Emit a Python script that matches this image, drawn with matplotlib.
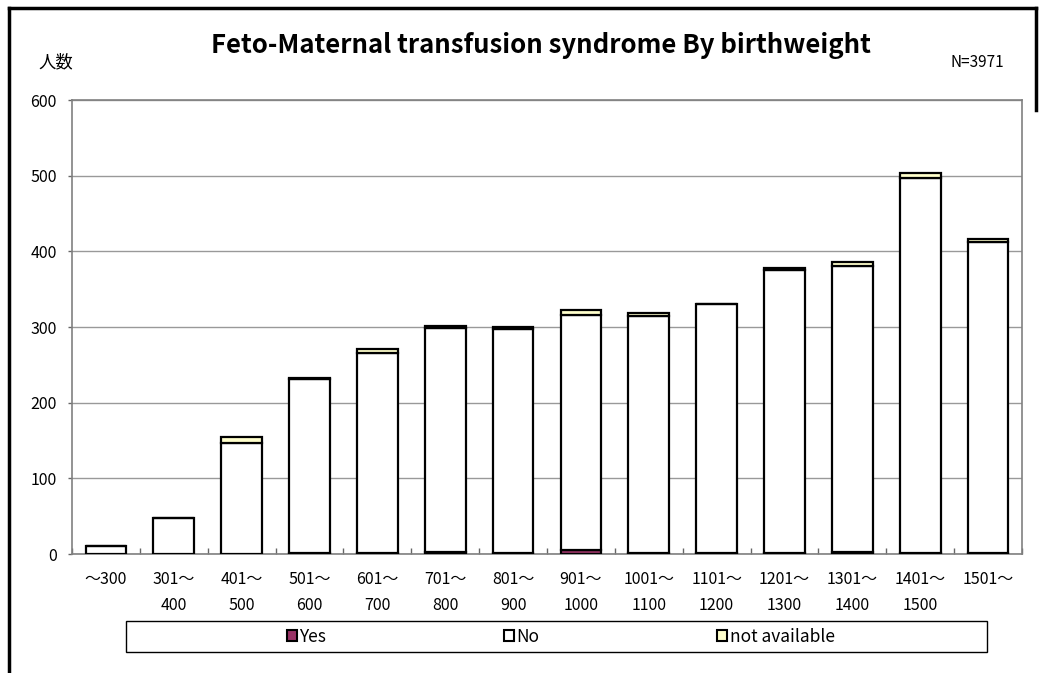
import numpy as np
import matplotlib.pyplot as plt
from matplotlib.patches import Rectangle, Patch
from matplotlib.lines import Line2D

plt.rcParams['font.family'] = ['Noto Sans CJK JP', 'DejaVu Sans']

# data
categories = ['～300', '301～\n400', '401～\n500', '501～\n600', '601～\n700',
              '701～\n800', '801～\n900', '901～\n1000', '1001～\n1100',
              '1101～\n1200', '1201～\n1300', '1301～\n1400', '1401～\n1500', '1501～']
yes_counts = [0, 0, 0, 1, 2, 3, 1, 5, 1, 1, 1, 3, 1, 2]
no_counts = [10, 47, 147, 230, 264, 296, 297, 311, 314, 329, 374, 377, 496, 411]
na_counts = [0, 0, 8, 2, 5, 2, 2, 7, 3, 0, 3, 6, 7, 3]

colors = {'Yes': '#993366', 'No': '#FFFFFF', 'not available': '#FFFFCC'}

fig = plt.figure(figsize=(10.42, 6.73), dpi=100)
ax = fig.add_axes([0.0691, 0.1768, 0.9117, 0.6746])

x = np.arange(len(categories))
yes = np.array(yes_counts)
no = np.array(no_counts)
na = np.array(na_counts)

bar_kw = dict(width=0.6, edgecolor='black', linewidth=1.6, zorder=3)
ax.bar(x, yes, color=colors['Yes'], **bar_kw)
ax.bar(x, no, bottom=yes, color=colors['No'], **bar_kw)
ax.bar(x, na, bottom=yes + no, color=colors['not available'], **bar_kw)

ax.set_xlim(-0.5, len(categories) - 0.5)
ax.set_ylim(0, 600)
ax.set_yticks(range(0, 601, 100))
ax.yaxis.grid(True, color='#999999', linewidth=1)
ax.set_axisbelow(True)
ax.tick_params(axis='y', labelsize=11.5, length=3, width=1, color='#666666', pad=8)

# category boundaries as ticks, labels at the centres
ax.set_xticks(np.arange(-0.5, len(categories), 1))
ax.set_xticklabels([])
ax.tick_params(axis='x', which='major', direction='in', length=4, width=1, color='#666666')
ax.set_xticks(x, minor=True)
ax.set_xticklabels(categories, minor=True, fontsize=11.5, linespacing=1.75)
ax.tick_params(axis='x', which='minor', length=0, pad=12)

for side in ['top', 'right', 'left', 'bottom']:
    ax.spines[side].set_color('#808080')
    ax.spines[side].set_linewidth(1.2)

fig.text(0.519, 0.933, 'Feto-Maternal transfusion syndrome By birthweight',
         ha='center', va='center', fontsize=18.5, fontweight='bold')
fig.text(0.054, 0.907, '人数', ha='center', va='center', fontsize=12.5)
fig.text(0.938, 0.907, 'N=3971', ha='center', va='center', fontsize=11)

# legend with a plain frame
handles = [Patch(facecolor=colors[k], edgecolor='black', linewidth=1.5) for k in colors]
fig.legend(handles, list(colors.keys()), ncol=3, loc='center',
           bbox_to_anchor=(0.538, 0.054), frameon=False, fontsize=12.5,
           handlelength=0.6, handleheight=0.6, handletextpad=0.15, columnspacing=10.2)
fig.add_artist(Rectangle((126 / 1042, 1 - 652 / 673), (987 - 126) / 1042, 31 / 673,
                         transform=fig.transFigure, fill=False, edgecolor='black', linewidth=1))

# outer frame lines
fig.add_artist(Line2D([9 / 1042, 9 / 1042], [0, 1 - 8 / 673], transform=fig.transFigure,
                      color='black', linewidth=2.5))
fig.add_artist(Line2D([9 / 1042, 1036 / 1042], [1 - 8 / 673, 1 - 8 / 673], transform=fig.transFigure,
                      color='black', linewidth=2.5))
fig.add_artist(Line2D([1036 / 1042, 1036 / 1042], [1 - 8 / 673, 1 - 110 / 673], transform=fig.transFigure,
                      color='black', linewidth=2.5))

fig.savefig('out.png', dpi=100)
